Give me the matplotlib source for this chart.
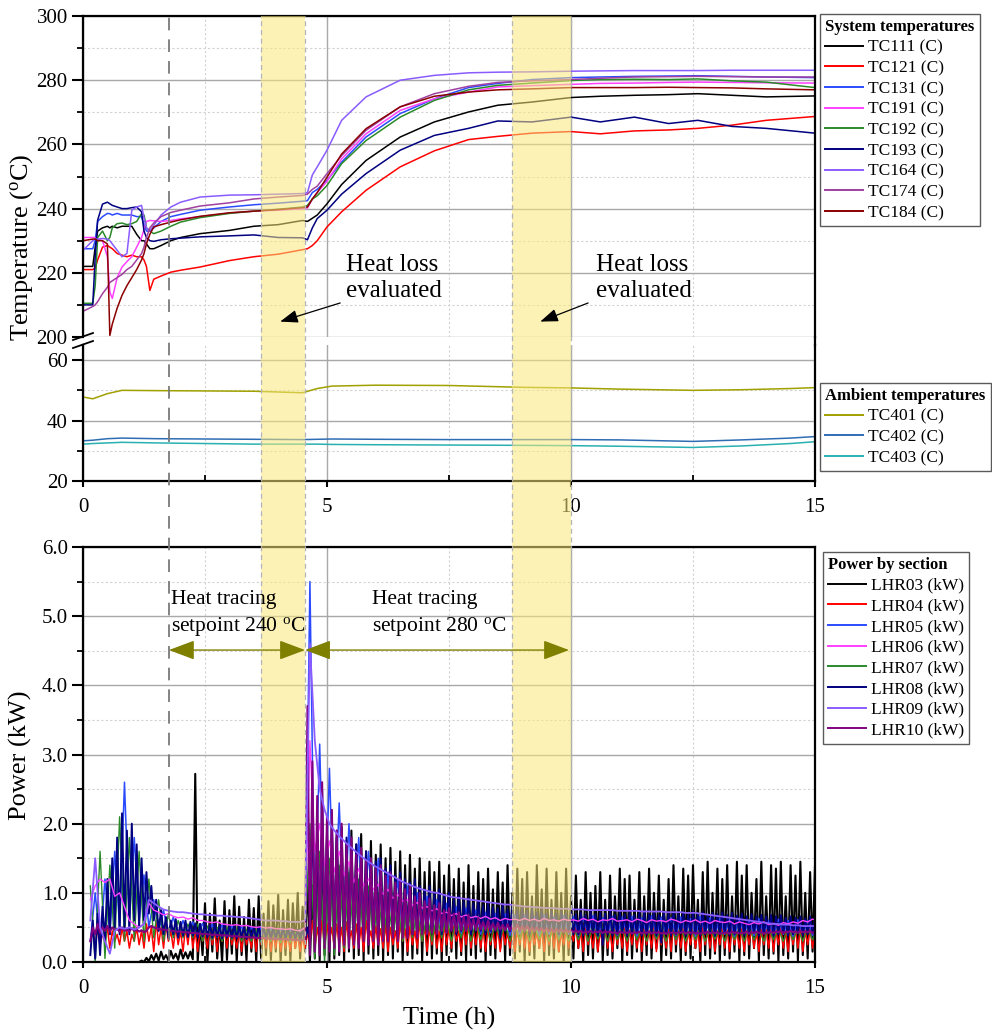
import numpy as np
import matplotlib
matplotlib.use('Agg')
import matplotlib.pyplot as plt
from matplotlib.lines import Line2D
from matplotlib.ticker import MultipleLocator, FormatStrFormatter

plt.rcParams['font.family'] = ['Liberation Serif', 'DejaVu Serif']
plt.rcParams['mathtext.fontset'] = 'custom'
plt.rcParams['mathtext.rm'] = 'Liberation Serif'
plt.rcParams['mathtext.it'] = 'Liberation Serif:italic'

# ---------------- system temperatures (h, degC) ----------------
t_sys = [0.0, 0.2, 0.25, 0.3, 0.4, 0.5, 0.55, 0.6, 0.7, 0.8, 0.9, 1.0, 1.1, 1.2, 1.25, 1.3, 1.37, 1.45,
         1.6, 1.8, 2.0, 2.4, 3.0, 3.5, 4.0, 4.5, 4.6, 4.7, 4.8, 5.0, 5.3, 5.8, 6.5, 7.2, 7.9, 8.5, 9.2,
         10.0, 10.6, 11.3, 12.0, 12.6, 13.3, 14.0, 15.0]
TC111 = [222, 222, 228, 233, 234, 234.5, 234, 234.5, 234, 234.5, 234.5, 234.5, 232, 230, 230, 229, 227.5, 227.5,
         228.5, 230, 231, 232.2, 233.2, 234.5, 235, 236.3, 236, 237, 238, 241.5, 247.5, 255, 262.3, 267, 270.1, 272.2, 273.2,
         274.6, 275, 275.3, 275.5, 275.8, 275.3, 274.8, 275.1]
TC121 = [221, 221, 221.5, 224, 228, 228.5, 228, 227.5, 226, 225.5, 225, 225.5, 225, 225, 224, 222, 214.5, 218,
         219, 220.2, 220.8, 221.8, 223.8, 225, 225.8, 227.2, 227.5, 228.5, 230, 234.3, 239, 245.7, 253, 258, 261.5, 262.5, 263.5,
         264, 263.3, 264.2, 264.5, 265, 266, 267.5, 268.7]
TC131 = [227.5, 227.5, 230, 236, 237.5, 238.5, 238.4, 238, 238.5, 238, 238, 238, 237.5, 237.5, 235, 233, 233, 234,
         236, 237.5, 238.2, 239.5, 240.5, 241.2, 241.7, 242.3, 242.5, 245, 246, 248.8, 254.5, 262.3, 269.6, 274.2, 277.7, 279, 280.2,
         280.8, 281, 281.2, 281.3, 281.4, 281.2, 281, 280.8]
TC191 = [231, 231, 231, 230.5, 230, 225, 214, 212, 218.5, 221.8, 223.5, 225, 228, 231, 233.5, 236, 236.3, 236.2,
         236, 236.3, 236.8, 237.5, 238.6, 239.2, 239.5, 240, 240.2, 243, 245, 248.5, 255.5, 263.3, 270.6, 274.2, 276.3, 277.9, 278.3,
         278.7, 279, 279.1, 279.3, 279.4, 279.3, 279.2, 279.1]
TC192 = [210.5, 210.5, 216, 231, 233, 230, 231, 234, 235.3, 235.5, 235, 235.3, 236, 238.4, 238, 234, 233, 232.2,
         233, 234.5, 235.8, 237.2, 238.5, 239.2, 239.8, 240.5, 241, 243, 244, 247.2, 254, 261.2, 268.5, 273.7, 277, 278.4, 279.1,
         279.9, 280.2, 280.3, 280.2, 280.4, 279.8, 279.4, 277.7]
TC193 = [210, 210, 225, 236.4, 241.4, 242, 241.5, 241, 240.5, 240, 240, 240.3, 240.5, 239, 233, 231, 230, 229.8,
         230.3, 230.6, 230.8, 231.2, 231.5, 231.8, 231, 230.9, 230.3, 234, 236.9, 239.5, 244.5, 250.9, 258.2, 262.8, 265, 267.3, 267,
         268.5, 267, 268.5, 266.5, 267.5, 265.6, 265, 263.5]
TC164 = [227, 230, 230.5, 230.5, 230.7, 230.5, 230, 229, 227, 225, 226, 239.5, 240.5, 241, 237, 234, 233, 234.8,
         238, 240.5, 242, 243.6, 244.2, 244.3, 244.5, 244.7, 245, 250.5, 253, 258.2, 267.5, 274.8, 280, 281.5, 282.3, 282.5, 282.6,
         282.8, 282.9, 283, 283, 283, 283.1, 283.1, 283.1]
TC174 = [208, 209.5, 210, 211, 213.5, 215.5, 217, 217.5, 218.5, 219.5, 221, 222, 224, 226, 228, 231, 234, 235.5,
         237.5, 238.8, 239.5, 240.8, 241.8, 243, 243.6, 244.1, 244.5, 246, 247, 250.9, 256.5, 264.4, 271.7, 275.8, 278.1, 279.3, 279.8,
         280.2, 280.6, 281, 281.1, 281.2, 281.1, 281, 281]
TC184 = [230, 230.5, 230.5, 230, 230, 229, 200.5, 204, 209, 213, 216, 218.5, 221, 224, 226, 229, 232, 234.3,
         235, 235.8, 236.5, 237.6, 238.7, 239.2, 239.7, 240.3, 240.5, 243, 245, 249.8, 257, 264.9, 271.7, 275, 276.3, 277, 277.3,
         277.7, 277.7, 277.7, 277.8, 277.7, 277.6, 277.3, 277]

# ---------------- ambient temperatures ----------------
t_amb = [0, 0.2, 0.5, 0.8, 1.5, 2.5, 3.5, 4.5, 4.8, 5.1, 6, 7.5, 9, 10, 11, 12.5, 13.5, 14.5, 15]
TC401 = [47.8, 47.2, 48.9, 50, 49.9, 49.8, 49.7, 49.2, 50.6, 51.4, 51.7, 51.6, 51, 50.8, 50.4, 50, 50.2, 50.6, 50.9]
TC402 = [33.3, 33.5, 34, 34.2, 34, 33.9, 33.8, 33.7, 33.8, 33.9, 33.8, 33.7, 33.7, 33.7, 33.6, 33.1, 33.6, 34.2, 34.7]
TC403 = [32.2, 32.4, 32.6, 32.8, 32.6, 32.4, 32.2, 32.2, 32.2, 32.1, 32, 31.9, 31.8, 31.7, 31.5, 31.1, 31.6, 32.4, 33]

# ---------------- power by section (kW) ----------------
P_T0 = 0.15          # first sample (h)
STEP_FINE = 0.05     # sample spacing of LHR03/04/08/10 (h)
STEP_COARSE = 0.10   # sample spacing of LHR05/06/07/09 (h)

LHR03 = [0, 0, 0, 0, 0, 0, 0, 0, 0, 0, 0, 0, 0, 0, 0, 0, 0, 0, 0, 0,
         0.0, 0.02, 0.0, 0.06, 0.01, 0.1, 0.03, 0.12, 0.02, 0.15, 0.04, 0.1, 0.02, 0.16, 0.05, 0.12, 0.03, 0.18, 0.05, 0.14,
         0.05, 0.15, 0.04, 2.72, 0.0, 0.55, 0.1, 0.85, 0.0, 0.7, 0.15, 0.92, 0.05, 0.6, 0.0, 0.88, 0.03, 0.75, 0.12, 0.95,
         0.0, 0.8, 0.1, 0.65, 0.02, 0.9, 0.15, 0.78, 0.0, 0.95, 0.05, 0.7, 0.1, 0.88, 0.03, 0.82, 0.15, 0.97, 0.0, 0.75,
         0.1, 0.9, 0.02, 0.85, 0.2, 1.0, 0.05, 0.8, 0.15, 1.2, 0.0, 1.1, 0.05, 1.5, 0.02, 1.7, 0.1, 1.85, 0.0, 1.9,
         0.05, 1.8, 0.1, 1.95, 0.0, 1.75, 0.15, 1.9, 0.05, 1.7, 0.1, 1.85, 0.02, 1.6, 0.12, 1.75, 0.05, 1.55, 0.1, 1.7,
         0.02, 1.5, 0.1, 1.65, 0.05, 1.45, 0.15, 1.6, 0.0, 1.4, 0.1, 1.55, 0.05, 1.35, 0.12, 1.5, 0.02, 1.3, 0.1, 1.45,
         0.05, 1.3, 0.12, 1.45, 0.0, 1.25, 0.1, 1.4, 0.15, 1.2, 0.05, 1.35, 0.1, 1.15, 0.02, 1.4, 0.1, 1.1, 0.05, 1.3,
         0.15, 1.2, 0.0, 1.35, 0.1, 1.05, 0.05, 1.3, 0.2, 1.15, 0.02, 1.4, 0.1, 1.0, 0.05, 1.35, 0.15, 1.2, 0.0, 1.3,
         0.1, 0.95, 0.05, 1.4, 0.2, 1.05, 0.02, 1.35, 0.1, 0.9, 0.05, 1.3, 0.15, 1.0, 0.0, 1.35, 0.1, 0.95, 0.05, 1.25,
         0.2, 0.9, 0.0, 1.3, 0.1, 1.0, 0.05, 1.1, 0.15, 1.3, 0.02, 0.9, 0.1, 1.25, 0.05, 0.95, 0.2, 1.35, 0.0, 1.2,
         0.1, 1.25, 0.05, 0.9, 0.15, 1.3, 0.02, 0.95, 0.1, 1.35, 0.05, 1.0, 0.2, 1.25, 0.0, 0.9, 0.1, 1.2, 0.05, 1.4,
         0.15, 0.95, 0.02, 1.35, 0.1, 1.25, 0.05, 1.4, 0.2, 0.9, 0.0, 1.3, 0.1, 1.45, 0.05, 1.0, 0.12, 1.35, 0.02, 1.2,
         0.1, 1.4, 0.05, 0.95, 0.15, 1.45, 0.0, 1.25, 0.1, 1.4, 0.05, 1.0, 0.2, 1.2, 0.02, 1.45, 0.1, 0.95, 0.05, 1.4,
         0.12, 1.35, 0.0, 1.45, 0.1, 0.95, 0.05, 1.4, 0.15, 1.25, 0.02, 1.45, 0.1, 1.0, 0.05, 1.3, 0.15, 1.4, 0.0, 1.35]
LHR04 = [0.3, 0.45, 0.2, 0.5, 0.25, 0.4, 0.3, 0.5, 0.2, 0.45, 0.3, 0.4, 0.25, 0.5, 0.3, 0.45, 0.2, 0.4, 0.3, 0.5,
         0.25, 0.45, 0.2, 0.55, 0.3, 0.5, 0.15, 0.6, 0.25, 0.5, 0.2, 0.55, 0.3, 0.45, 0.2, 0.5, 0.25, 0.45, 0.15, 0.5,
         0.25, 0.55, 0.2, 0.45, 0.15, 0.5, 0.3, 0.4, 0.2, 0.55, 0.25, 0.45, 0.15, 0.5, 0.3, 0.45, 0.2, 0.5, 0.25, 0.4,
         0.2, 0.45, 0.15, 0.5, 0.25, 0.4, 0.2, 0.45, 0.15, 0.5, 0.25, 0.4, 0.2, 0.45, 0.15, 0.4, 0.2, 0.45, 0.15, 0.4,
         0.2, 0.4, 0.15, 0.45, 0.2, 0.4, 0.15, 0.35, 0.2, 0.4, 0.3, 0.6, 0.2, 0.5, 0.25, 0.6, 0.2, 0.55, 0.3, 0.5,
         0.2, 0.55, 0.25, 0.5, 0.15, 0.58, 0.3, 0.45, 0.2, 0.55, 0.25, 0.5, 0.15, 0.6, 0.3, 0.45, 0.2, 0.52, 0.25, 0.48,
         0.2, 0.55, 0.15, 0.5, 0.25, 0.45, 0.2, 0.55, 0.3, 0.48, 0.15, 0.52, 0.25, 0.45, 0.2, 0.55, 0.3, 0.5, 0.15, 0.48,
         0.25, 0.5, 0.2, 0.45, 0.15, 0.55, 0.25, 0.48, 0.2, 0.52, 0.3, 0.45, 0.15, 0.5, 0.25, 0.6, 0.2, 0.45, 0.25, 0.5,
         0.2, 0.48, 0.15, 0.52, 0.25, 0.45, 0.2, 0.5, 0.15, 0.48, 0.25, 0.42, 0.2, 0.5, 0.15, 0.45, 0.25, 0.48, 0.2, 0.44,
         0.15, 0.46, 0.25, 0.42, 0.2, 0.48, 0.15, 0.44, 0.25, 0.5, 0.2, 0.45, 0.15, 0.42, 0.25, 0.48, 0.2, 0.44, 0.3, 0.5,
         0.2, 0.45, 0.15, 0.5, 0.25, 0.42, 0.2, 0.48, 0.15, 0.45, 0.25, 0.52, 0.2, 0.44, 0.15, 0.48, 0.25, 0.45, 0.2, 0.5,
         0.15, 0.46, 0.25, 0.5, 0.2, 0.44, 0.15, 0.48, 0.25, 0.45, 0.2, 0.5, 0.15, 0.46, 0.25, 0.44, 0.2, 0.48, 0.15, 0.5,
         0.25, 0.45, 0.2, 0.48, 0.15, 0.44, 0.25, 0.5, 0.2, 0.46, 0.15, 0.52, 0.25, 0.44, 0.2, 0.48, 0.15, 0.45, 0.25, 0.5,
         0.2, 0.46, 0.15, 0.5, 0.25, 0.44, 0.2, 0.48, 0.15, 0.45, 0.25, 0.5, 0.2, 0.44, 0.15, 0.48, 0.25, 0.46, 0.2, 0.5,
         0.15, 0.45, 0.25, 0.5, 0.2, 0.44, 0.15, 0.48, 0.25, 0.46, 0.2, 0.5, 0.15, 0.45, 0.25, 0.48, 0.2, 0.44, 0.15, 0.5]
LHR05 = [0.3, 1.0, 0.2, 1.2, 0.4, 1.6, 0.5, 2.6, 0.6, 1.8,
         0.6, 1.26, 0.5, 0.9, 0.45, 0.75, 0.4, 0.65, 0.38, 0.6,
         0.4, 0.58, 0.38, 0.56, 0.37, 0.55, 0.36, 0.54, 0.36, 0.53,
         0.35, 0.52, 0.35, 0.51, 0.34, 0.5, 0.34, 0.5, 0.33, 0.49,
         0.33, 0.48, 0.33, 0.47, 0.32, 5.5, 0.5, 3.15, 0.4, 2.8,
         0.5, 2.3, 0.45, 2.0, 0.5, 1.8, 0.45, 1.6, 0.5, 1.5,
         0.45, 1.3, 0.5, 1.2, 0.45, 1.1, 0.5, 1.0, 0.45, 0.95,
         0.45, 0.9, 0.4, 0.85, 0.45, 0.8, 0.4, 0.78, 0.42, 0.75,
         0.4, 0.72, 0.42, 0.7, 0.4, 0.7, 0.38, 0.68, 0.4, 0.68,
         0.42, 0.66, 0.38, 0.68, 0.4, 0.65, 0.36, 0.67, 0.4, 0.66,
         0.38, 0.65, 0.4, 0.67, 0.37, 0.64, 0.4, 0.66, 0.38, 0.65,
         0.4, 0.66, 0.37, 0.64, 0.4, 0.67, 0.38, 0.65, 0.4, 0.64,
         0.38, 0.65, 0.4, 0.63, 0.37, 0.66, 0.4, 0.64, 0.38, 0.63,
         0.4, 0.62, 0.37, 0.64, 0.4, 0.61, 0.38, 0.63, 0.4, 0.6,
         0.38, 0.62, 0.4, 0.6, 0.37, 0.61, 0.4, 0.6, 0.38, 0.62]
LHR06 = [0.9, 1.1, 1.2, 1.15, 1.2, 0.95, 1.0, 0.8, 0.6, 0.55,
         0.5, 0.55, 0.85, 0.75, 0.72, 0.68, 0.7, 0.66, 0.64, 0.65,
         0.62, 0.64, 0.6, 0.6, 0.58, 0.57, 0.58, 0.55, 0.54, 0.53,
         0.54, 0.52, 0.53, 0.51, 0.5, 0.51, 0.49, 0.5, 0.48, 0.48,
         0.47, 0.48, 0.46, 0.45, 0.5, 3.2, 1.6, 2.0, 1.4, 1.75,
         1.3, 1.6, 1.25, 1.45, 1.15, 1.35, 1.1, 1.2, 1.05, 1.12,
         0.98, 1.05, 0.92, 0.98, 0.88, 0.9, 0.82, 0.86, 0.78, 0.8,
         0.74, 0.77, 0.7, 0.72, 0.67, 0.7, 0.65, 0.68, 0.64, 0.66,
         0.63, 0.66, 0.62, 0.64, 0.6, 0.63, 0.61, 0.62, 0.6, 0.63,
         0.6, 0.62, 0.59, 0.63, 0.6, 0.61, 0.59, 0.62, 0.6, 0.61,
         0.59, 0.63, 0.6, 0.62, 0.58, 0.61, 0.6, 0.63, 0.59, 0.6,
         0.61, 0.58, 0.62, 0.6, 0.57, 0.61, 0.59, 0.6, 0.58, 0.62,
         0.6, 0.57, 0.6, 0.58, 0.61, 0.57, 0.59, 0.56, 0.6, 0.58,
         0.57, 0.59, 0.55, 0.58, 0.56, 0.54, 0.57, 0.55, 0.58, 0.54,
         0.56, 0.53, 0.57, 0.55, 0.58, 0.56, 0.6, 0.58, 0.62, 0.6]
LHR07 = [1.1, 0.0, 1.6, 0.05, 1.4, 0.2, 2.1, 0.3, 1.8, 0.3,
         1.6, 0.3, 1.2, 0.35, 0.9, 0.3, 0.7, 0.35, 0.6, 0.35,
         0.55, 0.35, 0.55, 0.3, 0.52, 0.32, 0.5, 0.3, 0.5, 0.32,
         0.48, 0.3, 0.47, 0.3, 0.46, 0.28, 0.45, 0.3, 0.45, 0.28,
         0.44, 0.28, 0.43, 0.3, 0.4, 2.0, 0.05, 1.6, 0.0, 1.5,
         0.1, 1.4, 0.2, 1.3, 0.25, 1.2, 0.3, 1.1, 0.3, 1.0,
         0.3, 0.9, 0.35, 0.85, 0.3, 0.8, 0.35, 0.75, 0.3, 0.7,
         0.3, 0.68, 0.35, 0.65, 0.3, 0.62, 0.35, 0.6, 0.3, 0.58,
         0.32, 0.57, 0.3, 0.56, 0.34, 0.55, 0.3, 0.55, 0.32, 0.54,
         0.3, 0.54, 0.33, 0.53, 0.3, 0.54, 0.32, 0.52, 0.3, 0.53,
         0.32, 0.52, 0.3, 0.53, 0.33, 0.51, 0.3, 0.52, 0.32, 0.51,
         0.3, 0.52, 0.32, 0.5, 0.3, 0.51, 0.33, 0.5, 0.3, 0.51,
         0.32, 0.5, 0.3, 0.51, 0.32, 0.5, 0.3, 0.5, 0.33, 0.49,
         0.3, 0.5, 0.32, 0.49, 0.3, 0.5, 0.32, 0.48, 0.3, 0.49,
         0.32, 0.48, 0.3, 0.49, 0.32, 0.48, 0.3, 0.49, 0.32, 0.48]
LHR08 = [0.1, 0.6, 0.05, 0.7, 0.1, 0.8, 0.3, 1.2, 0.4, 1.5, 0.5, 1.8, 0.4, 2.15, 0.5, 1.9, 0.4, 2.0, 0.6, 1.7,
         0.5, 1.5, 0.6, 1.3, 0.7, 1.1, 0.6, 0.9, 0.45, 0.75, 0.4, 0.65, 0.35, 0.6, 0.4, 0.62, 0.35, 0.58, 0.38, 0.6,
         0.36, 0.58, 0.38, 0.56, 0.35, 0.55, 0.37, 0.57, 0.36, 0.54, 0.35, 0.55, 0.37, 0.53, 0.34, 0.55, 0.36, 0.52, 0.35, 0.53,
         0.34, 0.52, 0.36, 0.5, 0.33, 0.52, 0.35, 0.5, 0.34, 0.51, 0.33, 0.5, 0.35, 0.49, 0.33, 0.5, 0.34, 0.48, 0.33, 0.5,
         0.33, 0.48, 0.34, 0.49, 0.32, 0.47, 0.33, 0.48, 0.3, 0.5, 0.3, 2.2, 0.4, 1.9, 0.3, 2.5, 0.4, 1.8, 0.35, 2.0,
         0.4, 1.9, 0.45, 1.75, 0.4, 1.8, 0.45, 1.65, 0.4, 1.7, 0.45, 1.55, 0.4, 1.6, 0.45, 1.5, 0.4, 1.45, 0.45, 1.5,
         0.45, 1.35, 0.4, 1.4, 0.45, 1.25, 0.4, 1.3, 0.45, 1.2, 0.45, 1.15, 0.4, 1.2, 0.45, 1.1, 0.45, 1.05, 0.4, 1.1,
         0.45, 1.0, 0.45, 1.05, 0.4, 0.95, 0.45, 1.0, 0.45, 0.9, 0.4, 0.95, 0.45, 0.88, 0.45, 0.92, 0.4, 0.85, 0.45, 0.88,
         0.45, 0.82, 0.4, 0.85, 0.45, 0.8, 0.45, 0.78, 0.35, 0.82, 0.45, 0.76, 0.45, 0.8, 0.4, 0.75, 0.45, 0.78, 0.45, 0.74,
         0.4, 0.76, 0.45, 0.72, 0.45, 0.75, 0.4, 0.7, 0.45, 0.74, 0.45, 0.7, 0.4, 0.73, 0.45, 0.7, 0.45, 0.72, 0.4, 0.69,
         0.4, 0.72, 0.38, 0.68, 0.4, 0.73, 0.42, 0.69, 0.38, 0.72, 0.25, 0.7, 0.4, 0.73, 0.38, 0.68, 0.4, 0.72, 0.42, 0.69,
         0.38, 0.73, 0.4, 0.68, 0.42, 0.71, 0.38, 0.74, 0.4, 0.69, 0.42, 0.72, 0.38, 0.68, 0.28, 0.72, 0.4, 0.7, 0.38, 0.73,
         0.4, 0.69, 0.42, 0.72, 0.38, 0.68, 0.4, 0.73, 0.42, 0.7, 0.38, 0.72, 0.4, 0.68, 0.42, 0.71, 0.38, 0.69, 0.4, 0.72,
         0.42, 0.68, 0.38, 0.71, 0.4, 0.67, 0.42, 0.7, 0.38, 0.66, 0.4, 0.69, 0.42, 0.66, 0.38, 0.68, 0.4, 0.66, 0.42, 0.68,
         0.38, 0.66, 0.4, 0.68, 0.42, 0.64, 0.38, 0.66, 0.4, 0.64, 0.42, 0.66, 0.38, 0.63, 0.4, 0.66, 0.42, 0.64, 0.38, 0.66]
LHR09 = [0.6, 1.5, 0.5, 0.3, 0.12, 0.45, 0.5, 0.48, 0.5, 0.47,
         0.5, 0.55, 0.9, 0.85, 0.8, 0.76, 0.74, 0.73, 0.72, 0.72,
         0.71, 0.7, 0.69, 0.69, 0.68, 0.68, 0.67, 0.67, 0.66, 0.66,
         0.65, 0.65, 0.64, 0.63, 0.62, 0.61, 0.6, 0.6, 0.6, 0.59,
         0.59, 0.58, 0.58, 0.58, 0.6, 4.6, 3.2, 2.5, 2.2, 2.0,
         1.9, 1.82, 1.75, 1.68, 1.62, 1.56, 1.5, 1.45, 1.4, 1.36,
         1.32, 1.28, 1.24, 1.2, 1.16, 1.13, 1.1, 1.07, 1.05, 1.03,
         1.01, 1.0, 0.98, 0.96, 0.94, 0.93, 0.92, 0.91, 0.9, 0.89,
         0.88, 0.87, 0.86, 0.85, 0.84, 0.83, 0.83, 0.82, 0.81, 0.8,
         0.8, 0.79, 0.79, 0.78, 0.78, 0.78, 0.77, 0.77, 0.77, 0.76,
         0.76, 0.76, 0.75, 0.75, 0.75, 0.75, 0.75, 0.75, 0.74, 0.74,
         0.74, 0.74, 0.74, 0.73, 0.73, 0.73, 0.73, 0.73, 0.72, 0.72,
         0.72, 0.72, 0.71, 0.71, 0.71, 0.7, 0.69, 0.68, 0.67, 0.66,
         0.65, 0.64, 0.63, 0.62, 0.61, 0.6, 0.59, 0.58, 0.57, 0.56,
         0.55, 0.55, 0.54, 0.54, 0.53, 0.53, 0.52, 0.52, 0.52, 0.52]
LHR10 = [0.3, 0.5, 0.4, 0.55, 0.42, 0.5, 0.45, 0.52, 0.44, 0.5, 0.46, 0.48, 0.44, 0.5, 0.45, 0.47, 0.44, 0.49, 0.45, 0.47,
         0.44, 0.46, 0.43, 0.45, 0.5, 0.52, 0.5, 0.49, 0.48, 0.47, 0.47, 0.46, 0.46, 0.45, 0.45, 0.44, 0.44, 0.44, 0.43, 0.43,
         0.43, 0.42, 0.42, 0.42, 0.41, 0.41, 0.4, 0.41, 0.4, 0.4, 0.39, 0.4, 0.39, 0.39, 0.38, 0.39, 0.38, 0.38, 0.37, 0.38,
         0.37, 0.37, 0.36, 0.37, 0.36, 0.36, 0.35, 0.36, 0.35, 0.35, 0.34, 0.35, 0.34, 0.34, 0.34, 0.33, 0.34, 0.33, 0.33, 0.33,
         0.33, 0.32, 0.33, 0.32, 0.32, 0.32, 0.31, 0.32, 0.31, 3.7, 0.1, 2.9, 0.15, 2.4, 0.1, 2.6, 0.2, 2.1, 0.15, 2.2,
         0.2, 1.9, 0.15, 2.0, 0.25, 1.7, 0.2, 1.8, 0.25, 1.55, 0.2, 1.65, 0.3, 1.45, 0.25, 1.5, 0.3, 1.35, 0.25, 1.4,
         0.3, 1.25, 0.3, 1.3, 0.35, 1.15, 0.3, 1.2, 0.35, 1.05, 0.35, 1.1, 0.4, 0.95, 0.35, 1.0, 0.4, 0.88, 0.4, 0.92,
         0.42, 0.82, 0.4, 0.85, 0.45, 0.75, 0.42, 0.78, 0.45, 0.7, 0.44, 0.72, 0.46, 0.65, 0.45, 0.68, 0.47, 0.62, 0.46, 0.64,
         0.47, 0.58, 0.46, 0.6, 0.47, 0.56, 0.46, 0.57, 0.47, 0.54, 0.46, 0.55, 0.46, 0.53, 0.45, 0.54, 0.46, 0.52, 0.45, 0.52,
         0.45, 0.5, 0.44, 0.5, 0.45, 0.49, 0.44, 0.49, 0.44, 0.48, 0.43, 0.48, 0.44, 0.47, 0.43, 0.47, 0.43, 0.46, 0.43, 0.46,
         0.43, 0.45, 0.42, 0.44, 0.43, 0.45, 0.42, 0.44, 0.43, 0.45, 0.42, 0.44, 0.43, 0.44, 0.42, 0.43, 0.41, 0.44, 0.42, 0.43,
         0.42, 0.44, 0.41, 0.43, 0.42, 0.44, 0.41, 0.43, 0.42, 0.44, 0.41, 0.43, 0.42, 0.43, 0.41, 0.42, 0.41, 0.43, 0.42, 0.43,
         0.41, 0.43, 0.42, 0.44, 0.41, 0.43, 0.42, 0.43, 0.41, 0.42, 0.41, 0.43, 0.42, 0.44, 0.41, 0.43, 0.42, 0.43, 0.41, 0.42,
         0.42, 0.43, 0.41, 0.44, 0.42, 0.43, 0.41, 0.42, 0.42, 0.44, 0.41, 0.43, 0.42, 0.44, 0.42, 0.43, 0.41, 0.43, 0.42, 0.44,
         0.42, 0.44, 0.43, 0.45, 0.42, 0.44, 0.43, 0.45, 0.43, 0.44, 0.42, 0.45, 0.43, 0.44, 0.43, 0.45, 0.42, 0.44, 0.43, 0.45]

# ---------------- styling ----------------
sys_series = [('TC111 (C)', TC111, '#000000'), ('TC121 (C)', TC121, '#ff0000'), ('TC131 (C)', TC131, '#2b4bff'),
              ('TC191 (C)', TC191, '#ff40ff'), ('TC192 (C)', TC192, '#2a8a2a'), ('TC193 (C)', TC193, '#000080'),
              ('TC164 (C)', TC164, '#8a5cff'), ('TC174 (C)', TC174, '#a040a0'), ('TC184 (C)', TC184, '#8b0000')]
amb_series = [('TC401 (C)', TC401, '#a0a000'), ('TC402 (C)', TC402, '#2e6db4'), ('TC403 (C)', TC403, '#2ab0b0')]
pow_series = {'LHR03 (kW)': (LHR03, STEP_FINE, '#000000', 1.5), 'LHR04 (kW)': (LHR04, STEP_FINE, '#ff0000', 1.1),
              'LHR05 (kW)': (LHR05, STEP_COARSE, '#2b4bff', 1.1), 'LHR06 (kW)': (LHR06, STEP_COARSE, '#ff40ff', 1.0),
              'LHR07 (kW)': (LHR07, STEP_COARSE, '#2a8a2a', 1.0), 'LHR08 (kW)': (LHR08, STEP_FINE, '#000080', 1.4),
              'LHR09 (kW)': (LHR09, STEP_COARSE, '#8a5cff', 1.3), 'LHR10 (kW)': (LHR10, STEP_FINE, '#800080', 1.5)}
draw_order = ['LHR03 (kW)', 'LHR04 (kW)', 'LHR05 (kW)', 'LHR07 (kW)', 'LHR08 (kW)', 'LHR06 (kW)', 'LHR10 (kW)', 'LHR09 (kW)']

W, H = 992, 1033
fig = plt.figure(figsize=(W / 100, H / 100), dpi=100)

def rect(x0, y0, x1, y1):
    return [x0 / W, 1 - y1 / H, (x1 - x0) / W, (y1 - y0) / H]

ax_hi = fig.add_axes(rect(83, 16, 815, 337))
ax_lo = fig.add_axes(rect(83, 345, 815, 481))
ax_p = fig.add_axes(rect(83, 547, 815, 962))

GRID_MAJ = dict(color='#a8a8a8', lw=1.0, ls='-')
GRID_MIN = dict(color='#d2d2d2', lw=0.8, ls=(0, (2, 2)))

for ax in (ax_hi, ax_lo, ax_p):
    ax.set_xlim(0, 15)
    ax.set_axisbelow(True)
    ax.xaxis.set_major_locator(MultipleLocator(5))
    ax.xaxis.set_minor_locator(MultipleLocator(2.5))
    ax.grid(which='major', **GRID_MAJ)
    ax.grid(which='minor', **GRID_MIN)
    for s in ax.spines.values():
        s.set_linewidth(1.6)
    ax.tick_params(axis='y', which='major', direction='out', length=8, width=1.5, pad=3, labelsize=15)
    ax.tick_params(axis='y', which='minor', direction='out', length=4.5, width=1.3)
    ax.tick_params(axis='x', which='major', direction='out', length=4.5, width=1.5, pad=8, labelsize=15)
    ax.tick_params(axis='x', which='minor', direction='in', length=4.5, width=1.3)

# upper temperature segment
ax_hi.set_ylim(200, 300)
ax_hi.yaxis.set_major_locator(MultipleLocator(20))
ax_hi.yaxis.set_minor_locator(MultipleLocator(10))
ax_hi.spines['bottom'].set_visible(False)
ax_hi.tick_params(axis='x', which='both', bottom=False, labelbottom=False)
sys_handles = []
for lab, vals, col in sys_series:
    ln, = ax_hi.plot(t_sys, vals, color=col, lw=1.1, label=lab)
    sys_handles.append(ln)

# lower temperature segment
ax_lo.set_ylim(20, 65)
ax_lo.yaxis.set_major_locator(MultipleLocator(20))
ax_lo.yaxis.set_minor_locator(MultipleLocator(10))
ax_lo.spines['top'].set_visible(False)
amb_handles = []
for lab, vals, col in amb_series:
    ln, = ax_lo.plot(t_amb, vals, color=col, lw=1.1, label=lab)
    amb_handles.append(ln)

# power
ax_p.set_ylim(0, 6)
ax_p.yaxis.set_major_locator(MultipleLocator(1))
ax_p.yaxis.set_minor_locator(MultipleLocator(0.5))
ax_p.yaxis.set_major_formatter(FormatStrFormatter('%.1f'))
pow_handles = {}
for lab in draw_order:
    vals, step, col, lw = pow_series[lab]
    tt = P_T0 + step * np.arange(len(vals))
    ln, = ax_p.plot(tt, vals, color=col, lw=lw, label=lab)
    pow_handles[lab] = ln

# broken axis marks and right spine bridge
fig.add_artist(Line2D([815 / W, 815 / W], [1 - 337 / H, 1 - 345 / H], color='k', lw=1.6))
for yy in (338, 346):
    fig.add_artist(Line2D([73 / W, 93 / W], [1 - (yy + 2) / H, 1 - (yy - 5) / H], color='k', lw=1.3))

# overlay: evaluation windows and setpoint change markers
ax_ov = fig.add_axes(rect(83, 16, 815, 962), zorder=5)
ax_ov.set_xlim(0, 15)
ax_ov.set_ylim(0, 1)
ax_ov.axis('off')
ax_ov.patch.set_alpha(0)
windows = [(3.65, 4.55), (8.8, 10.0)]
for a, b in windows:
    ax_ov.axvspan(a, b, color='#fbe97a', alpha=0.55, lw=0)
    for xv in (a, b):
        ax_ov.axvline(xv, color='#b4b4b4', lw=0.9, ls=(0, (4, 3)))
ax_ov.axvline(1.76, color='#7a7a7a', lw=1.3, ls=(0, (7, 5)))

# annotations
for xt in (5.39, 10.51):
    ax_ov.text(xt, 218.4, 'Heat loss\nevaluated', transform=ax_hi.transData, fontsize=18,
               ha='left', va='center', linespacing=1.25, zorder=20)
for (x0, y0), (x1, y1) in [((5.27, 210.6), (4.04, 204.8)), ((10.35, 210.6), (9.37, 204.8))]:
    ax_ov.annotate('', xy=(x1, y1), xycoords=ax_hi.transData, xytext=(x0, y0), textcoords=ax_hi.transData,
                   arrowprops=dict(arrowstyle='-|>,head_length=0.6,head_width=0.22', color='k', lw=0.9,
                                   mutation_scale=18, shrinkA=0, shrinkB=0), zorder=20)
ax_ov.text(1.80, 5.03, 'Heat tracing\nsetpoint 240 $^{\\mathrm{o}}$C', transform=ax_p.transData, fontsize=15.5,
           ha='left', va='center', linespacing=1.35, zorder=20)
ax_ov.text(5.92, 5.03, 'Heat tracing\nsetpoint 280 $^{\\mathrm{o}}$C', transform=ax_p.transData, fontsize=15.5,
           ha='left', va='center', linespacing=1.35, zorder=20)
for xa, xb in [(1.76, 4.55), (4.55, 9.96)]:
    ax_ov.annotate('', xy=(xb, 4.51), xycoords=ax_p.transData, xytext=(xa, 4.51), textcoords=ax_p.transData,
                   arrowprops=dict(arrowstyle='<|-|>,head_length=0.8,head_width=0.3', color='#7f7f00', lw=1.0,
                                   mutation_scale=20, shrinkA=0, shrinkB=0), zorder=20)

# axis labels
fig.text(22 / W, 1 - 247 / H, 'Temperature ($^{\\mathrm{o}}$C)', rotation=90, fontsize=19, ha='center', va='center')
fig.text(20 / W, 1 - 755 / H, 'Power (kW)', rotation=90, fontsize=19, ha='center', va='center')
fig.text(449 / W, 1 - 1018 / H, 'Time (h)', fontsize=19, ha='center', va='center')

# legends
LEG = dict(loc='upper left', bbox_transform=fig.transFigure, fontsize=12.5,
           title_fontproperties={'weight': 'bold', 'size': 12}, frameon=True, fancybox=False,
           edgecolor='#5a5a5a', framealpha=1, handlelength=2.2, handletextpad=0.25, labelspacing=0.26,
           borderpad=0.3, borderaxespad=0, alignment='left')
leg1 = ax_hi.legend(handles=sys_handles, title='System temperatures', bbox_to_anchor=(820 / W, 1 - 14 / H), **LEG)
leg2 = ax_lo.legend(handles=amb_handles, title='Ambient temperatures', bbox_to_anchor=(820 / W, 1 - 383 / H), **LEG)
leg_order = ['LHR03 (kW)', 'LHR04 (kW)', 'LHR05 (kW)', 'LHR06 (kW)', 'LHR07 (kW)', 'LHR08 (kW)', 'LHR09 (kW)', 'LHR10 (kW)']
leg3 = ax_p.legend(handles=[pow_handles[k] for k in leg_order], title='Power by section',
                   bbox_to_anchor=(823 / W, 1 - 552 / H), **LEG)
for lg in (leg1, leg2, leg3):
    lg.get_frame().set_linewidth(1.0)
    for h in lg.legend_handles:
        h.set_linewidth(1.4)

fig.savefig('out.png', dpi=100)
